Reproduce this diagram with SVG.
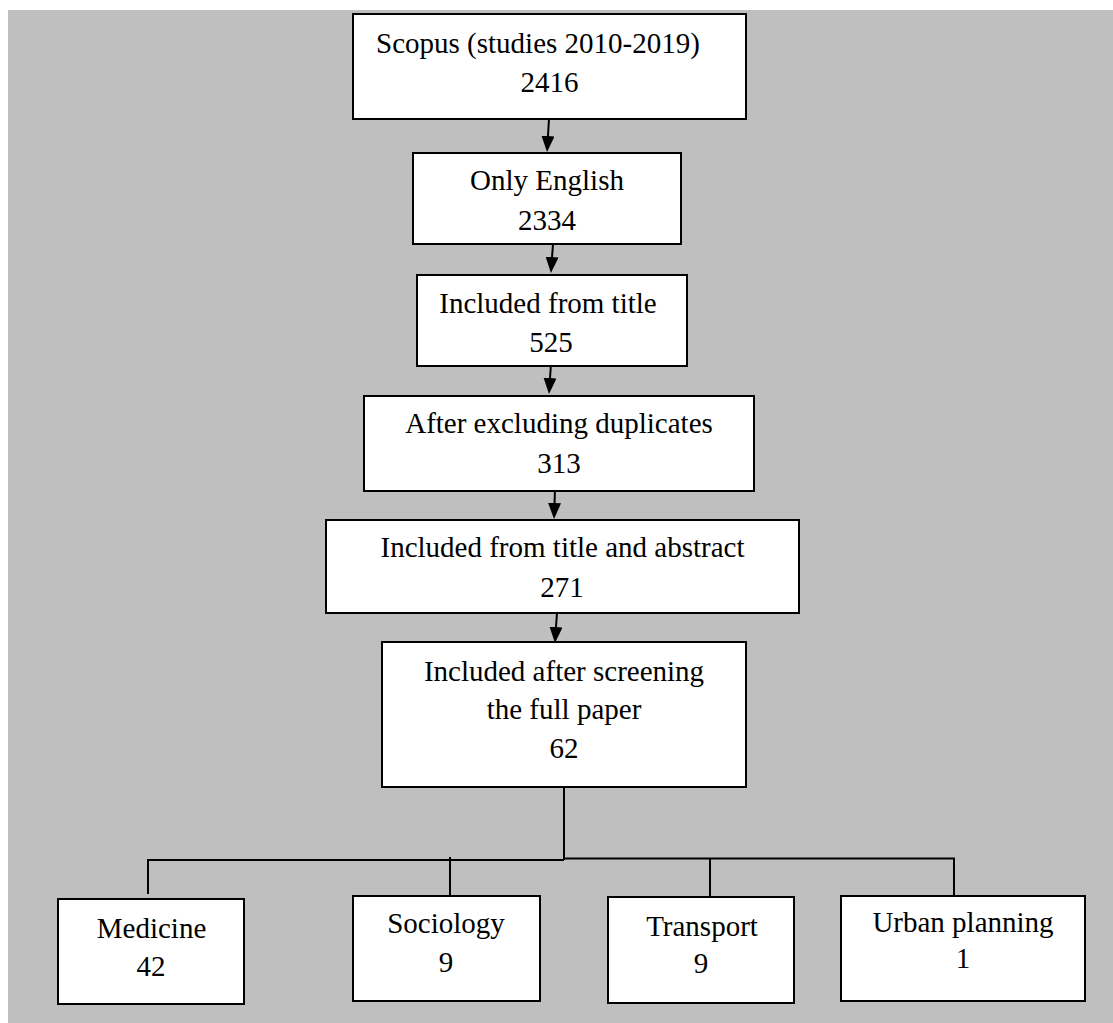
<svg xmlns="http://www.w3.org/2000/svg" width="1113" height="1023" viewBox="0 0 1113 1023">
<style>
.box{fill:#ffffff;stroke:#000000;stroke-width:2}
.t{font-family:"Liberation Serif","Times New Roman",serif;font-size:29px;fill:#000000;text-anchor:middle}
.c{stroke:#000000;stroke-width:2;fill:none}
</style>
<defs>
<marker id="ah" markerUnits="userSpaceOnUse" markerWidth="16" markerHeight="13" refX="8" refY="6.5" orient="auto">
<path d="M0,0 L16,6.5 L0,13 Z" fill="#000000"/>
</marker>
</defs>
<rect x="8" y="10" width="1105" height="1013" fill="#bfbfbf"/>
<g id="connectors">
<line class="c" x1="549" y1="119" x2="547.5" y2="144" marker-end="url(#ah)"/>
<line class="c" x1="553" y1="244" x2="551.5" y2="265" marker-end="url(#ah)"/>
<line class="c" x1="551" y1="363" x2="549.5" y2="386" marker-end="url(#ah)"/>
<line class="c" x1="555" y1="488" x2="554.3" y2="511" marker-end="url(#ah)"/>
<line class="c" x1="557" y1="612" x2="555.5" y2="635" marker-end="url(#ah)"/>
<line class="c" x1="564" y1="787" x2="564" y2="860"/>
<polyline class="c" points="148,894 148,860 564,860"/>
<polyline class="c" points="564,858.5 954,858.5 954,895"/>
<line class="c" x1="450" y1="857" x2="450" y2="895"/>
<line class="c" x1="710" y1="858" x2="710" y2="896"/>
</g>
<g id="n_scopus">
<rect class="box" x="353" y="14" width="393" height="105"/>
<text class="t" x="538" y="53">Scopus (studies 2010-2019)</text>
<text class="t" x="549.5" y="92">2416</text>
</g>
<g id="n_english">
<rect class="box" x="413" y="153" width="268" height="91"/>
<text class="t" x="547" y="190">Only English</text>
<text class="t" x="547" y="230">2334</text>
</g>
<g id="n_title">
<rect class="box" x="417" y="275" width="270" height="91"/>
<text class="t" x="548" y="313">Included from title</text>
<text class="t" x="551" y="352">525</text>
</g>
<g id="n_dup">
<rect class="box" x="364" y="396" width="390" height="95"/>
<text class="t" x="559" y="433">After excluding duplicates</text>
<text class="t" x="559" y="473">313</text>
</g>
<g id="n_abstract">
<rect class="box" x="326" y="520" width="473" height="93"/>
<text class="t" x="562.5" y="557">Included from title and abstract</text>
<text class="t" x="562" y="597">271</text>
</g>
<g id="n_full">
<rect class="box" x="382" y="642" width="364" height="145"/>
<text class="t" x="564" y="681">Included after screening</text>
<text class="t" x="564" y="719">the full paper</text>
<text class="t" x="564" y="758">62</text>
</g>
<g id="n_medicine">
<rect class="box" x="58" y="899" width="186" height="105"/>
<text class="t" x="151.5" y="938">Medicine</text>
<text class="t" x="151" y="976">42</text>
</g>
<g id="n_sociology">
<rect class="box" x="353" y="896" width="187" height="105"/>
<text class="t" x="446" y="933">Sociology</text>
<text class="t" x="446" y="972">9</text>
</g>
<g id="n_transport">
<rect class="box" x="608" y="897" width="186" height="106"/>
<text class="t" x="702" y="936">Transport</text>
<text class="t" x="701" y="973">9</text>
</g>
<g id="n_urban">
<rect class="box" x="841" y="896" width="244" height="105"/>
<text class="t" x="963" y="932">Urban planning</text>
<text class="t" x="963" y="968">1</text>
</g>
</svg>
